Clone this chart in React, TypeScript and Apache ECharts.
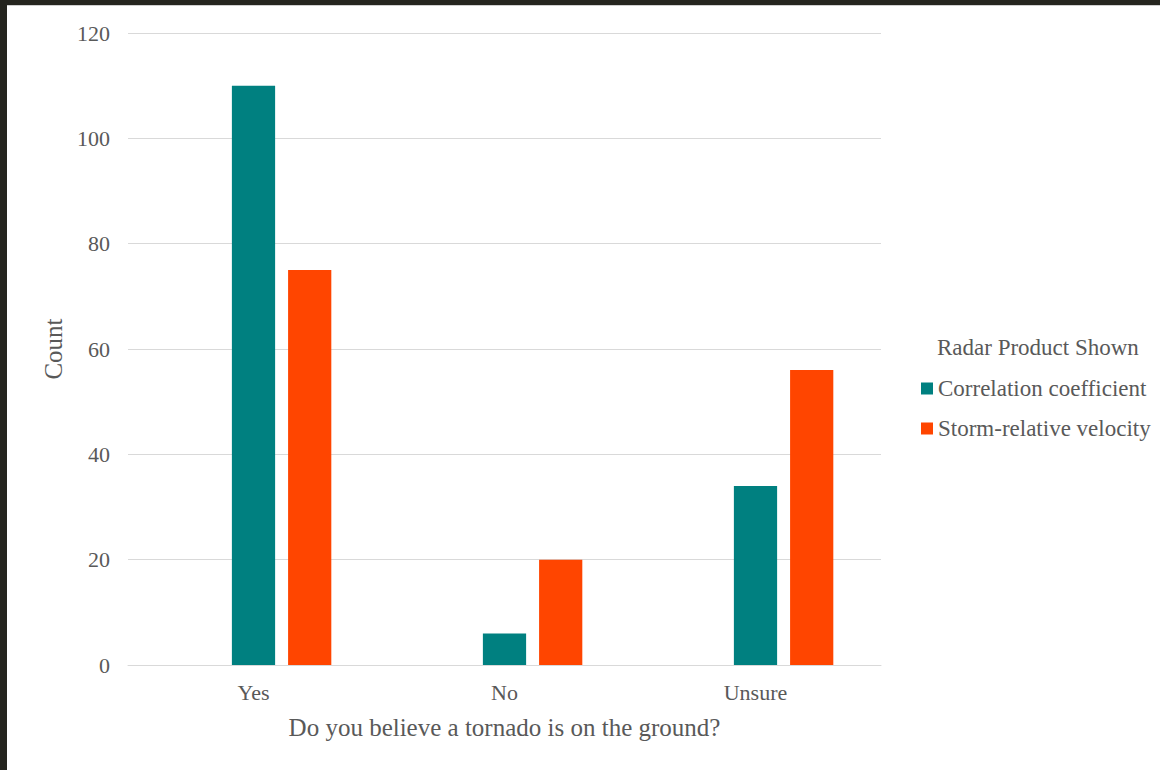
import React, { useEffect, useRef } from "react";
import * as echarts from "echarts";

// Survey responses by radar product
const categories = ["Yes", "No", "Unsure"];
const correlationCoefficient = [110, 6, 34];
const stormRelativeVelocity = [75, 20, 56];
// Empty leading series slot (kept so the bar groups sit right of centre)
const blankSlot = [null, null, null];
const seriesNames = ["Correlation coefficient", "Storm-relative velocity"];
const legendTitle = "Radar Product Shown";
const xAxisTitle = "Do you believe a tornado is on the ground?";
const yAxisTitle = "Count";

const FONT = "'Liberation Serif', 'Times New Roman', serif";
const TEXT = "#595959";

export default function App() {
  const ref = useRef<HTMLDivElement>(null);

  useEffect(() => {
    if (!ref.current) return;
    const chart = echarts.init(ref.current, null, { renderer: "svg" });
    chart.setOption({
      animation: false,
      backgroundColor: "#ffffff",
      textStyle: { fontFamily: FONT },
      grid: { left: 121, right: 279, top: 27, bottom: 105 },
      legend: {
        orient: "vertical",
        left: 909,
        top: 366,
        itemWidth: 12,
        itemHeight: 12,
        itemGap: 17,
        icon: "rect",
        textStyle: { fontFamily: FONT, fontSize: 23, color: TEXT },
        data: seriesNames,
      },
      graphic: [
        {
          type: "text",
          left: 930,
          top: 330,
          style: { text: legendTitle, font: `23px ${FONT}`, fill: TEXT },
        },
      ],
      xAxis: {
        type: "category",
        data: categories,
        axisLine: { lineStyle: { color: "#d9d9d9", width: 1 } },
        axisTick: { show: false },
        axisLabel: { fontFamily: FONT, fontSize: 22, color: TEXT, margin: 16 },
        name: xAxisTitle,
        nameLocation: "middle",
        nameGap: 50,
        nameTextStyle: { fontFamily: FONT, fontSize: 25, color: TEXT },
      },
      yAxis: {
        type: "value",
        min: 0,
        max: 120,
        interval: 20,
        axisLine: { show: false },
        axisTick: { show: false },
        splitLine: { lineStyle: { color: "#d9d9d9", width: 1 } },
        axisLabel: { fontFamily: FONT, fontSize: 22, color: TEXT, margin: 18 },
        name: yAxisTitle,
        nameLocation: "middle",
        nameGap: 59,
        nameTextStyle: { fontFamily: FONT, fontSize: 25, color: TEXT },
      },
      series: [
        {
          name: "",
          type: "bar",
          data: blankSlot,
          barGap: "30%",
          barCategoryGap: "38%",
        },
        {
          name: seriesNames[0],
          type: "bar",
          data: correlationCoefficient,
          itemStyle: { color: "#008080" },
        },
        {
          name: seriesNames[1],
          type: "bar",
          data: stormRelativeVelocity,
          itemStyle: { color: "#ff4500" },
        },
      ],
    });
    return () => chart.dispose();
  }, []);

  return (
    <div
      style={{
        position: "fixed",
        left: 0,
        top: 0,
        width: 1160,
        height: 770,
        background: "#25251f",
      }}
    >
      <div
        style={{
          position: "absolute",
          left: 7,
          top: 5,
          width: 1153,
          height: 1,
          background: "#cfcfcf",
        }}
      />
      <div
        ref={ref}
        style={{ position: "absolute", left: 7, top: 6, width: 1153, height: 764 }}
      />
    </div>
  );
}
